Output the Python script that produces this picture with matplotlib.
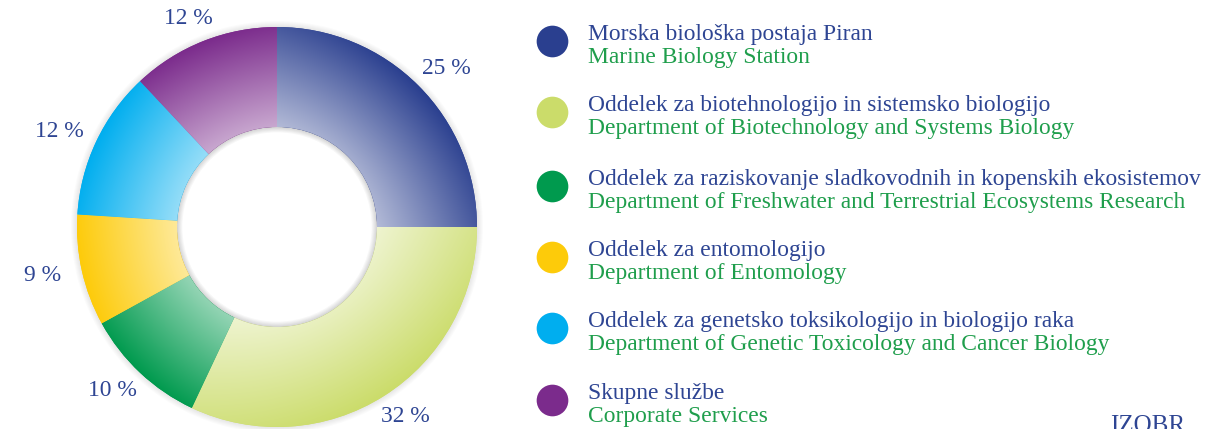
import numpy as np
import matplotlib
matplotlib.use("Agg")
import matplotlib.pyplot as plt
from matplotlib.colors import to_rgb

# shares per unit, clockwise from the top
shares = [25, 32, 10, 9, 12, 12]
share_labels = ["25 %", "32 %", "10 %", "9 %", "12 %", "12 %"]
colors = ["#2a3f8f", "#cbdc6a", "#009a4e", "#fdcb0a", "#00aeef", "#7b2b8c"]
names_sl = [
    "Morska biološka postaja Piran",
    "Oddelek za biotehnologijo in sistemsko biologijo",
    "Oddelek za raziskovanje sladkovodnih in kopenskih ekosistemov",
    "Oddelek za entomologijo",
    "Oddelek za genetsko toksikologijo in biologijo raka",
    "Skupne službe",
]
names_en = [
    "Marine Biology Station",
    "Department of Biotechnology and Systems Biology",
    "Department of Freshwater and Terrestrial Ecosystems Research",
    "Department of Entomology",
    "Department of Genetic Toxicology and Cancer Biology",
    "Corporate Services",
]

navy_txt = "#2e4593"
green_txt = "#1f9e4c"
font = "Liberation Serif"
fs = 16.9

W, H = 1207, 429
fig = plt.figure(figsize=(W / 100, H / 100), dpi=100)
ax = fig.add_axes([0, 0, 1, 1])

cx, cy, R, rin = 277, 202, 200, 100

# soft shadow around the ring
for k in range(6):
    ax.add_patch(plt.Circle((cx, cy), R + 1 + k, color="#000000", alpha=0.016, lw=0, zorder=0))
ax.add_patch(plt.Circle((cx, cy), rin, color="white", lw=0, zorder=1))
for k in range(5):
    ax.add_patch(plt.Circle((cx, cy), rin - 0.5, fill=False, ec="#000000", alpha=0.03,
                            lw=1 + 1.5 * k, zorder=1.5))

wedges, _ = ax.pie(shares, radius=R, center=(cx, cy), startangle=90, counterclock=False,
                   colors=colors, wedgeprops=dict(width=R - rin, linewidth=0))

# gradient fill: each slice fades from its outer middle towards the hole
n = 500
xs = np.linspace(cx - R, cx + R, n)
ys = np.linspace(cy - R, cy + R, n)
X, Y = np.meshgrid(xs, ys)
rad = np.hypot(X - cx, Y - cy)
for w, col in zip(wedges, colors):
    mid = np.deg2rad((w.theta1 + w.theta2) / 2)
    proj = (X - cx) * np.cos(mid) + (Y - cy) * np.sin(mid)
    t = 0.5 * np.clip((proj - 55) / (R - 55), 0, 1) + 0.5 * np.clip((rad - rin) / (R - rin), 0, 1)
    f = 0.32 + 0.68 * t
    base = np.array(to_rgb(col))
    img = 1 - f[..., None] * (1 - base)
    im = ax.imshow(img, extent=(cx - R, cx + R, cy - R, cy + R), origin="lower",
                   interpolation="bilinear", zorder=2)
    im.set_clip_path(w)

# percentage labels (placed on a slightly flattened ring around the donut)
for w, lab in zip(wedges, share_labels):
    mid = np.deg2rad((w.theta1 + w.theta2) / 2)
    ax.text(cx + 240 * np.cos(mid), cy + 224 * np.sin(mid), lab, ha="center", va="center",
            color=navy_txt, fontsize=fs, family=font, zorder=5)

# legend
leg_y = [41, 112, 186, 257, 328, 400]
for yy, col, sl, en in zip(leg_y, colors, names_sl, names_en):
    ax.scatter([552], [H - yy], s=520, color=col, lw=0, zorder=5)
    ax.text(588, H - yy + 1, sl, ha="left", va="baseline", color=navy_txt,
            fontsize=fs, family=font)
    ax.text(588, H - yy - 22, en, ha="left", va="baseline", color=green_txt,
            fontsize=fs, family=font)

ax.text(1110, -3, "IZOBR", ha="left", va="baseline", color=navy_txt, fontsize=18, family=font)

ax.set_xlim(0, W)
ax.set_ylim(0, H)
ax.set_aspect("auto")
ax.axis("off")
fig.savefig("out.png", dpi=100)
